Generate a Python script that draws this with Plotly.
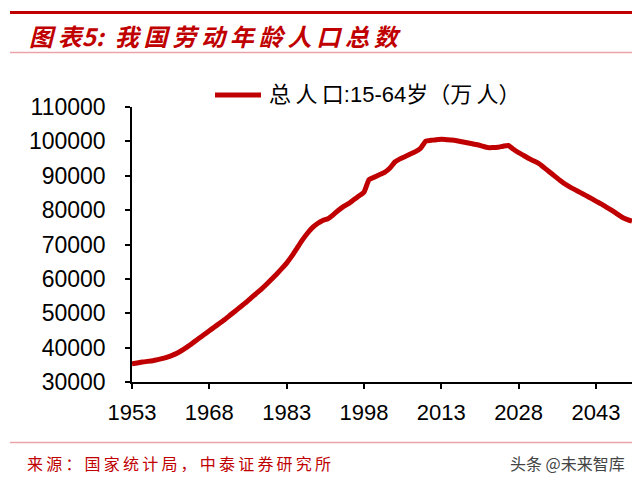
import plotly.graph_objects as go

years = list(range(1953, 2051))
pop_15_64 = [
    35300, 35550, 35800, 36000, 36200, 36500, 36850, 37300, 37900, 38600,  # 1953-1962
    39500, 40500, 41600, 42700, 43800, 44900, 46000, 47100, 48200, 49400,  # 1963-1972
    50600, 51800, 53000, 54300, 55600, 56900, 58300, 59800, 61300, 62900,  # 1973-1982
    64600, 66600, 68900, 71200, 73200, 74900, 76100, 77000, 77500, 78600,  # 1983-1992
    79900, 81000, 81900, 83000, 84100, 85200, 88900, 89600, 90300, 91000,  # 1993-2002
    92200, 94000, 94900, 95600, 96300, 97000, 98000, 100100, 100300, 100500,  # 2003-2012
    100600, 100500, 100400, 100200, 99900, 99600, 99300, 99000, 98600, 98200,  # 2013-2022
    98200, 98300, 98600, 98800, 97700, 96700, 95900, 95000, 94300, 93500,  # 2023-2032
    92300, 91100, 89900, 88700, 87600, 86700, 85900, 85100, 84300, 83500,  # 2033-2042
    82600, 81800, 80900, 80000, 79000, 78000, 77300, 76800,  # 2043-2050
]
x_ticks = [1953, 1968, 1983, 1998, 2013, 2028, 2043]
y_ticks = [30000, 40000, 50000, 60000, 70000, 80000, 90000, 100000, 110000]

series_name = "总人口:15-64岁（万人）"
title_text = "图表5:  我国劳动年龄人口总数"
source_text = "来源：国家统计局，中泰证券研究所"
watermark_text = "头条 @未来智库"

RED = "#C00000"
PINK = "#EBA3AA"

# the page body has an 8px margin, so the figure is drawn at (8, 8)
OFF = 8
W, H = 640 - OFF, 486 - OFF
L, R, T, B = 132 - OFF, 8, 107 - OFF, 104
pw, ph = W - L - R, H - T - B


def px_x(px):  # px in reference-screen coordinates
    return (px - OFF - L) / pw


def px_y(py):
    return (H - B - (py - OFF)) / ph


def spaced(s, sep="\u2009"):
    return sep.join(s)


fig = go.Figure()
fig.add_trace(go.Scatter(
    x=years, y=pop_15_64, mode="lines", name=series_name,
    line=dict(color=RED, width=5, shape="spline", smoothing=0.5),
    showlegend=False,
))

fig.update_layout(
    width=W, height=H,
    margin=dict(l=L, r=R, t=T, b=B),
    paper_bgcolor="white", plot_bgcolor="white",
    font=dict(family="Liberation Sans, Arial, sans-serif", size=23, color="black"),
    xaxis=dict(
        range=[1953, 2050], tickvals=x_ticks, ticktext=[str(v) for v in x_ticks],
        showgrid=False, zeroline=False, showline=True, linecolor="black", linewidth=1.5,
        ticks="outside", ticklen=5, tickwidth=1.5, tickcolor="black",
        tickfont=dict(size=22, family="Liberation Sans, Arial, sans-serif"),
        ticklabelstandoff=5,
    ),
    yaxis=dict(
        range=[30000, 110000], tickvals=y_ticks, ticktext=[str(v) for v in y_ticks],
        showgrid=False, zeroline=False, showline=True, linecolor="black", linewidth=1.5,
        ticks="outside", ticklen=5, tickwidth=1.5, tickcolor="black",
        tickfont=dict(size=23, family="Liberation Sans, Arial, sans-serif"),
        ticklabelstandoff=15,
    ),
)

shapes = [
    dict(type="line", xref="paper", yref="paper", x0=px_x(10), x1=px_x(632),
         y0=px_y(12.5), y1=px_y(12.5), line=dict(color=RED, width=3)),
    dict(type="line", xref="paper", yref="paper", x0=px_x(10), x1=px_x(632),
         y0=px_y(52.5), y1=px_y(52.5), line=dict(color=PINK, width=1.5)),
    dict(type="line", xref="paper", yref="paper", x0=px_x(10), x1=px_x(632),
         y0=px_y(442.5), y1=px_y(442.5), line=dict(color=PINK, width=1.5)),
    # legend sample
    dict(type="line", xref="paper", yref="paper", x0=px_x(215), x1=px_x(261),
         y0=px_y(95), y1=px_y(95), line=dict(color=RED, width=5)),
]
fig.update_layout(shapes=shapes)

legend_label = spaced("总人口") + ":15-64岁（" + spaced("万人") + "）"
title_label = spaced("图表") + "5:  " + spaced("我国劳动年龄人口总数")

annotations = [
    dict(text=title_label, xref="paper", yref="paper", x=px_x(27), y=px_y(35),
         xanchor="left", yanchor="middle", showarrow=False,
         font=dict(family="Noto Sans CJK SC", size=24, color=RED, weight="bold", style="italic")),
    dict(text=legend_label, xref="paper", yref="paper", x=px_x(267), y=px_y(95),
         xanchor="left", yanchor="middle", showarrow=False,
         font=dict(family="Liberation Sans, Noto Sans CJK SC", size=22, color="black")),
    dict(text=spaced(source_text), xref="paper", yref="paper", x=px_x(25), y=px_y(463),
         xanchor="left", yanchor="middle", showarrow=False,
         font=dict(family="Noto Sans CJK SC", size=16, color=RED)),
    dict(text=watermark_text, xref="paper", yref="paper", x=px_x(627), y=px_y(463),
         xanchor="right", yanchor="middle", showarrow=False,
         font=dict(family="Noto Sans CJK SC", size=16, color="#444444")),
]
fig.update_layout(annotations=annotations)

fig.write_html("out.html")
